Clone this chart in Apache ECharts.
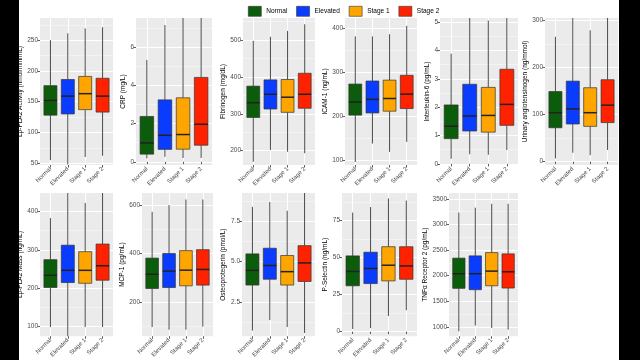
<!DOCTYPE html>
<html><head><meta charset="utf-8">
<script src="https://cdn.jsdelivr.net/npm/echarts@6/dist/echarts.min.js"></script>
<style>
html,body{margin:0;padding:0;background:#000;width:640px;height:360px;overflow:hidden}
#bg{position:absolute;left:19px;top:0;width:600px;height:360px;background:#fff}
#c{position:absolute;left:0;top:0;width:640px;height:360px}
</style></head>
<body><div id="bg"></div><div id="c"></div>
<script>
// ---- data: each row = [lower whisker, Q1, median, Q3, upper whisker] for Normal, Elevated, Stage 1, Stage 2
const categories = ['Normal', 'Elevated', 'Stage 1', 'Stage 2'];
const lpActivity = [[55,128,152,176,250],[48,130,159,186,261],[60,137,163,191,269],[62,133,159,188,271]];
const crp        = [[0.18,0.40,0.99,2.38,5.34],[0.26,0.65,1.39,3.25,7.18],[0.2,0.66,1.43,3.36,7.8],[0.2,0.87,1.97,4.43,8.2]];
const fibrinogen = [[170,290,330,375,498],[202,313,353,392,509],[197,304,345,393,525],[193,315,353,410,543]];
const icam1      = [[95,202,232,273,382],[137,207,238,280,382],[118,211,240,282,387],[141,217,250,293,406]];
const il6        = [[0.18,0.89,1.33,2.08,3.89],[0.34,1.16,1.69,2.81,5.5],[0.32,1.12,1.71,2.70,5.06],[0.49,1.36,2.10,3.34,5.8]];
const urinary    = [[7,72,104,149,265],[19,80,112,171,320],[14,75,104,157,279],[25,83,120,174,320]];
const lpMass     = [[97,201,233,274,383],[60,214,246,312,470],[97,212,246,295,423],[97,220,258,315,470]];
const mcp1       = [[95,255,314,381,573],[84,259,327,400,601],[84,266,331,412,624],[97,269,334,416,624]];
const opg        = [[0.73,3.55,4.46,5.48,8.39],[1.39,3.91,4.76,5.83,8.69],[0.95,3.55,4.38,5.38,8.15],[0.58,3.77,4.92,5.99,9.4]];
const pselectin  = [[1.8,31.0,40.7,51.2,80.5],[2.4,32.5,42.7,53.7,84.2],[10.6,34.3,44.9,57.4,90.0],[14.5,35.4,44.4,57.4,88.6]];
const tnfr2      = [[911,1751,2037,2342,3233],[1025,1725,2037,2386,3328],[975,1802,2088,2450,3405],[943,1757,2075,2425,3405]];

const titles = ['Lp-PLA2 Activity (nmol/min/mL)','CRP (mg/L)','Fibrinogen (mg/dL)','ICAM-1 (ng/mL)','Interleukin-6 (pg/mL)','Urinary angiotensinogen (ng/mmol)',
                'Lp-PLA2 Mass (ng/mL)','MCP-1 (pg/mL)','Osteoprotegerin (pmol/L)','P-Selectin (ng/mL)','TNF\u03b1 Receptor 2 (pg/mL)'];
const panelData = [lpActivity, crp, fibrinogen, icam1, il6, urinary, lpMass, mcp1, opg, pselectin, tnfr2];

// y-axis tick labels
const ticksLpActivity = [50,100,150,200,250];
const ticksCrp = [0,2,4,6];
const ticksFibrinogen = [200,300,400,500];
const ticksIcam1 = [100,200,300,400];
const ticksIl6 = [0,1,2,3,4,5];
const ticksUrinary = [0,100,200,300];
const ticksLpMass = [100,200,300,400];
const ticksMcp1 = [200,400,600];
const ticksOpg = [2.5,5.0,7.5];
const ticksPselectin = [0,25,50,75];
const ticksTnfr2 = [1000,1500,2000,2500,3000,3500];
const panelTicks = [ticksLpActivity,ticksCrp,ticksFibrinogen,ticksIcam1,ticksIl6,ticksUrinary,ticksLpMass,ticksMcp1,ticksOpg,ticksPselectin,ticksTnfr2];
const tickDecimals = [0,0,0,0,0,0,0,0,1,0,0];

// y-axis extents
const yRanges = [[47,286],[-0.17,7.55],[161,560],[88,424],[-0.04,5.15],[-7,305],[73,449],[57,651],[0.38,9.25],[-3.1,93.7],[815,3615]];

// ---- layout (pixels)
const layout = [
  [40,18,73,147],[136,18,76,147],[243,18,72,147],[345,18,72,147],[440,18,78,147],[545,18,73,147],
  [40,193,73,147],[142,193,71,147],[242,193,73,147],[342,193,75,147],[449,193,69,147]
];
const nameGaps = [15,9,14,16,9,11,14,15,13,12,18];
const colors = ['#0B5D0B','#0A3CFF','#FFA500','#FF2200'];
const FONT = '"Liberation Sans", Arial, sans-serif';

function renderBox(params, api) {
  const x = api.value(0);
  const v = [1,2,3,4,5].map(k => api.value(k));
  const cs = params.coordSys;
  const top = cs.y, bot = cs.y + cs.height;
  const cy = val => Math.max(top, Math.min(bot, api.coord([x, val])[1]));
  const p = v.map(cy);
  const cx = api.coord([x, v[2]])[0];
  const hw = api.size([0.75, 0])[0] / 2;
  const color = api.visual('color');
  return {type:'group', children:[
    {type:'line', shape:{x1:cx,y1:p[0],x2:cx,y2:p[1]}, style:{stroke:'#4a4a4a',lineWidth:1}},
    {type:'line', shape:{x1:cx,y1:p[3],x2:cx,y2:p[4]}, style:{stroke:'#4a4a4a',lineWidth:1}},
    {type:'rect', shape:{x:cx-hw,y:p[3],width:2*hw,height:p[1]-p[3]}, style:{fill:color,stroke:'#333',lineWidth:0.7}},
    {type:'line', shape:{x1:cx-hw,y1:p[2],x2:cx+hw,y2:p[2]}, style:{stroke:'#222',lineWidth:1.5}}
  ]};
}

const grids=[], xAxes=[], yAxes=[], series=[];
panelData.forEach((data, i) => {
  const [L,T,W,H] = layout[i];
  grids.push({left:L, top:T, width:W, height:H, show:true, backgroundColor:'#EBEBEB', borderWidth:0});
  xAxes.push({type:'value', gridIndex:i, min:0.4, max:4.6,
    axisLine:{show:false},
    axisTick:{show:true, length:2.5, customValues:[1,2,3,4], lineStyle:{color:'#333',width:0.8}},
    axisLabel:{customValues:[1,2,3,4], rotate:45, margin:3, fontSize:6, color:'#4D4D4D', fontFamily:FONT,
      formatter: v => categories[Math.round(v)-1]},
    splitLine:{show:true, lineStyle:{color:'#fff',width:1}}});
  const tk = panelTicks[i];
  const minor = [];
  const step = tk[1]-tk[0];
  for (let k=-1;k<tk.length;k++){ const m = tk[0] + (k+0.5)*step; if (m>yRanges[i][0] && m<yRanges[i][1]) minor.push(m); }
  yAxes.push({type:'value', gridIndex:i, min:yRanges[i][0], max:yRanges[i][1],
    name:titles[i], nameLocation:'middle', nameGap:nameGaps[i],
    nameTextStyle:{fontSize:6.5, color:'#000', fontFamily:FONT},
    axisLine:{show:false},
    axisTick:{show:true, length:2.5, customValues:tk, lineStyle:{color:'#333',width:0.8}},
    axisLabel:{customValues:tk, margin:2, fontSize:6.5, color:'#4D4D4D', fontFamily:FONT,
      formatter: v => v.toFixed(tickDecimals[i])},
    splitLine:{show:true, lineStyle:{color:'#fff',width:1}}});
  yAxes.push({type:'value', gridIndex:i, min:yRanges[i][0], max:yRanges[i][1],
    axisLine:{show:false}, axisTick:{show:false, customValues:minor},
    axisLabel:{show:false, customValues:minor},
    splitLine:{show:true, lineStyle:{color:'#fff',width:0.5, opacity:0.8}}});
  data.forEach((row, c) => {
    series.push({type:'custom', name:categories[c], xAxisIndex:i, yAxisIndex:2*i,
      itemStyle:{color:colors[c]}, renderItem:renderBox,
      encode:{x:0, y:[1,2,3,4,5]},
      data:[[c+1].concat(row)], silent:true, animation:false});
  });
});

const chart = echarts.init(document.getElementById('c'), null, {renderer:'canvas'});
chart.setOption({
  animation:false,
  backgroundColor:'transparent',
  textStyle:{fontFamily:FONT},
  legend:{data:categories, top:1, left:243, icon:'rect', itemWidth:13, itemHeight:10, itemGap:9,
    textStyle:{fontSize:6.5, color:'#000', fontFamily:FONT},
    itemStyle:{borderColor:'#333', borderWidth:0.6}},
  grid:grids, xAxis:xAxes, yAxis:yAxes, series:series
});
</script></body></html>
